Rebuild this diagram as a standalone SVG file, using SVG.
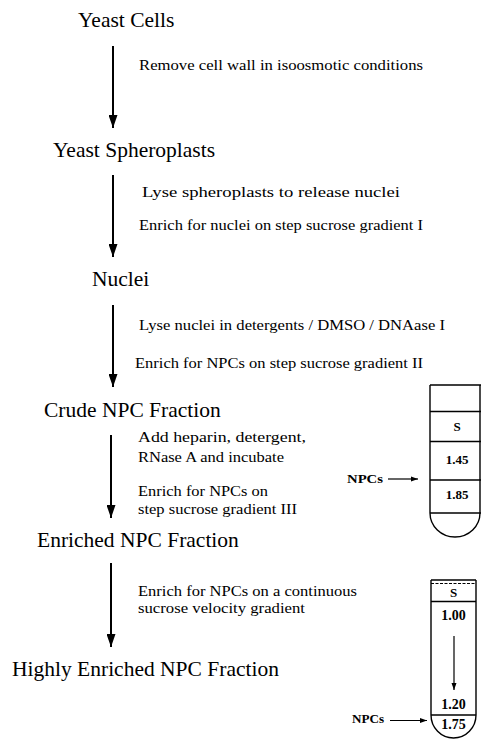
<svg xmlns="http://www.w3.org/2000/svg" width="481" height="742" viewBox="0 0 481 742">
<style>
.title{font-family:"Liberation Serif","Times New Roman",serif;font-size:21.5px;fill:#000}
.lbl{font-family:"Liberation Serif","Times New Roman",serif;font-size:15px;fill:#000}
.num{font-family:"Liberation Serif","Times New Roman",serif;font-weight:bold;fill:#000;text-anchor:middle}
.main{stroke:#000;stroke-width:2;fill:none}
.thin{stroke:#000;stroke-width:1.2;fill:none}
.tube{stroke:#000;stroke-width:1.4;fill:none}
</style>
<defs>
<marker id="big" markerUnits="userSpaceOnUse" markerWidth="14" markerHeight="9" refX="13" refY="4.5" orient="auto">
<path d="M0,0 L13,4.5 L0,9 z" fill="#000"/>
</marker>
<marker id="small" markerUnits="userSpaceOnUse" markerWidth="8" markerHeight="6" refX="7" refY="3" orient="auto">
<path d="M0,0.5 L7,3 L0,5.5 z" fill="#000"/>
</marker>
</defs>

<g id="yeast-cells"><text class="title" x="78" y="27">Yeast Cells</text></g>
<g id="spheroplasts"><text class="title" x="53" y="157">Yeast Spheroplasts</text></g>
<g id="nuclei"><text class="title" x="92" y="286">Nuclei</text></g>
<g id="crude"><text class="title" x="44" y="417">Crude NPC Fraction</text></g>
<g id="enriched"><text class="title" x="37" y="547">Enriched NPC Fraction</text></g>
<g id="highly"><text class="title" x="12" y="676">Highly Enriched NPC Fraction</text></g>

<g id="connectors">
<line class="main" x1="113" y1="46" x2="113" y2="128" marker-end="url(#big)"/>
<line class="main" x1="113" y1="175" x2="113" y2="257" marker-end="url(#big)"/>
<line class="main" x1="113" y1="305" x2="113" y2="387" marker-end="url(#big)"/>
<line class="main" x1="111" y1="435" x2="111" y2="518" marker-end="url(#big)"/>
<line class="main" x1="111" y1="563" x2="111" y2="647" marker-end="url(#big)"/>
</g>

<g id="step-labels">
<text class="lbl" x="139" y="70" textLength="284" lengthAdjust="spacingAndGlyphs">Remove cell wall in isoosmotic conditions</text>
<text class="lbl" x="142" y="197" textLength="258" lengthAdjust="spacingAndGlyphs">Lyse spheroplasts to release nuclei</text>
<text class="lbl" x="139" y="230" textLength="284" lengthAdjust="spacingAndGlyphs">Enrich for nuclei on step sucrose gradient I</text>
<text class="lbl" x="139" y="330" textLength="306" lengthAdjust="spacingAndGlyphs">Lyse nuclei in detergents / DMSO / DNAase I</text>
<text class="lbl" x="135" y="368" textLength="288" lengthAdjust="spacingAndGlyphs">Enrich for NPCs on step sucrose gradient II</text>
<text class="lbl" x="138" y="442" textLength="168" lengthAdjust="spacingAndGlyphs">Add heparin, detergent,</text>
<text class="lbl" x="138" y="462" textLength="146" lengthAdjust="spacingAndGlyphs">RNase A and incubate</text>
<text class="lbl" x="138" y="496" textLength="130" lengthAdjust="spacingAndGlyphs">Enrich for NPCs on</text>
<text class="lbl" x="138" y="514" textLength="159" lengthAdjust="spacingAndGlyphs">step sucrose gradient III</text>
<text class="lbl" x="138" y="596" textLength="219" lengthAdjust="spacingAndGlyphs">Enrich for NPCs on a continuous</text>
<text class="lbl" x="138" y="613" textLength="167" lengthAdjust="spacingAndGlyphs">sucrose velocity gradient</text>
</g>

<g id="tube-step">
<path class="tube" d="M430,385 L481,385 M430,385 L430,513 A25,24 0 0 0 480,513 L480,385"/>
<line class="tube" x1="430" y1="411.5" x2="481" y2="411.5"/>
<line class="tube" x1="430" y1="441.5" x2="481" y2="441.5" stroke-width="1.8"/>
<line class="tube" x1="430" y1="480" x2="481" y2="480"/>
<line class="tube" x1="430" y1="513" x2="481" y2="513"/>
<text class="num" x="457" y="431" font-size="13">S</text>
<text class="num" x="457" y="464" font-size="13">1.45</text>
<text class="num" x="457" y="499" font-size="13">1.85</text>
<text class="num" x="365" y="483" font-size="12" textLength="36" lengthAdjust="spacingAndGlyphs">NPCs</text>
<line class="thin" x1="388" y1="479" x2="418" y2="479" marker-end="url(#small)"/>
</g>

<g id="tube-velocity">
<path class="tube" d="M431,580 L476,580 M431,580 L431,715 A22.5,23 0 0 0 476,715 L476,580"/>
<line x1="431" y1="583.5" x2="476" y2="583.5" stroke="#000" stroke-width="1" stroke-dasharray="3,1.5"/>
<line class="tube" x1="431" y1="601.5" x2="476" y2="601.5"/>
<line class="tube" x1="431" y1="715" x2="476" y2="715"/>
<text class="num" x="453.5" y="597" font-size="13">S</text>
<text class="num" x="453.5" y="620" font-size="14">1.00</text>
<line class="thin" x1="454" y1="636" x2="454" y2="690" marker-end="url(#small)"/>
<text class="num" x="453.5" y="709" font-size="14">1.20</text>
<text class="num" x="453.5" y="729" font-size="14">1.75</text>
<text class="num" x="368" y="723" font-size="12" textLength="32" lengthAdjust="spacingAndGlyphs">NPCs</text>
<line class="thin" x1="390" y1="720.5" x2="427" y2="720.5" marker-end="url(#small)"/>
</g>
</svg>
